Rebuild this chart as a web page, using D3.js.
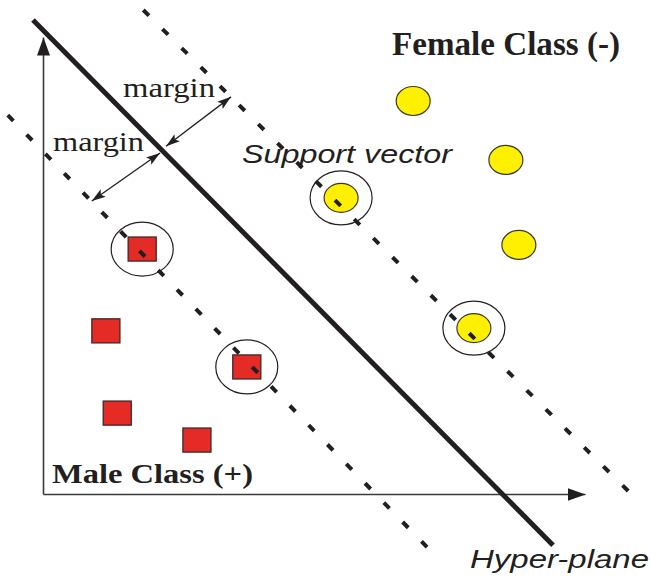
<!DOCTYPE html>
<html>
<head>
<meta charset="utf-8">
<script src="https://cdnjs.cloudflare.com/ajax/libs/d3/7.8.5/d3.min.js"></script>
<style>
  body { margin: 0; background: #fff; }
  svg { display: block; }
</style>
</head>
<body>
<div id="chart"></div>
<script>
// male class (+) samples, feature space 0..100
var maleX = [18.3, 11.6, 37.6, 13.7, 28.4];
var maleY = [53.6, 35.7, 27.8, 17.7, 11.8];
var maleSupport = [true, false, true, false, false];

// female class (-) samples
var femaleX = [68.3, 85.4, 55.0, 87.8, 79.5];
var femaleY = [86.0, 73.1, 64.8, 54.5, 36.3];
var femaleSupport = [false, false, true, false, true];

// separating lines: [x0, y0, x1, y1]
var hyperPlane = [-1.85, 103.7, 94.1, -11.2];
var upperMargin = [18.5, 105.9, 108.7, -0.2];
var lowerMargin = [-6.5, 82.9, 71.0, -11.8];

// margin arrows
var marginArrows = [
    [22.7, 76.1, 34.7, 86.9],
    [21.6, 74.6, 9.0, 64.1]
];

var width = 650, height = 577;
var ink = "#231f20";

var x = d3.scaleLinear().domain([0, 100]).range([43, 585]);
var y = d3.scaleLinear().domain([0, 100]).range([494, 37]);

var svg = d3.select("#chart").append("svg")
    .attr("width", width)
    .attr("height", height);

var defs = svg.append("defs");
defs.append("marker")
    .attr("id", "axisArrow")
    .attr("markerUnits", "userSpaceOnUse")
    .attr("markerWidth", 20).attr("markerHeight", 16)
    .attr("viewBox", "0 -8 20 16")
    .attr("refX", 18).attr("refY", 0)
    .attr("orient", "auto")
    .append("path")
    .attr("d", "M0,-6.5L18,0L0,6.5Z")
    .attr("fill", ink);

defs.append("marker")
    .attr("id", "marginArrow")
    .attr("markerUnits", "userSpaceOnUse")
    .attr("markerWidth", 16).attr("markerHeight", 12)
    .attr("viewBox", "0 -6 16 12")
    .attr("refX", 14).attr("refY", 0)
    .attr("orient", "auto-start-reverse")
    .append("path")
    .attr("d", "M0,-4.5L14,0L0,4.5L3,0Z")
    .attr("fill", ink);

// axes, no ticks
var xAxis = svg.append("g")
    .attr("transform", "translate(0," + y(0) + ")")
    .call(d3.axisBottom(x).ticks(0).tickSizeOuter(0));
var yAxis = svg.append("g")
    .attr("transform", "translate(" + x(0) + ",0)")
    .call(d3.axisLeft(y).ticks(0).tickSizeOuter(0));
[xAxis, yAxis].forEach(function(a){
    a.select(".domain")
        .attr("stroke", "#3a3a3a")
        .attr("stroke-width", 1.6)
        .attr("marker-end", "url(#axisArrow)");
});

// support vector rings
var rings = [];
maleX.forEach(function(v, i){ if (maleSupport[i]) rings.push([v, maleY[i]]); });
femaleX.forEach(function(v, i){ if (femaleSupport[i]) rings.push([v, femaleY[i]]); });
svg.selectAll(".ring").data(rings).enter().append("ellipse")
    .attr("class", "ring")
    .attr("cx", function(d){ return x(d[0]); })
    .attr("cy", function(d){ return y(d[1]); })
    .attr("rx", 31).attr("ry", 27)
    .attr("fill", "none")
    .attr("stroke", ink)
    .attr("stroke-width", 1.2);

// male squares
svg.selectAll(".male").data(d3.range(maleX.length)).enter().append("rect")
    .attr("class", "male")
    .attr("x", function(i){ return x(maleX[i]) - 14; })
    .attr("y", function(i){ return y(maleY[i]) - 12; })
    .attr("width", 28).attr("height", 24)
    .attr("fill", "#e42b26")
    .attr("stroke", "#4a2b2b")
    .attr("stroke-width", 1.4);

// female circles
svg.selectAll(".female").data(d3.range(femaleX.length)).enter().append("ellipse")
    .attr("class", "female")
    .attr("cx", function(i){ return x(femaleX[i]); })
    .attr("cy", function(i){ return y(femaleY[i]); })
    .attr("rx", 17).attr("ry", 14.5)
    .attr("fill", "#fff000")
    .attr("stroke", "#3a3a2a")
    .attr("stroke-width", 1.2);

// margin boundaries (dashed)
[upperMargin, lowerMargin].forEach(function(l){
    svg.append("line")
        .attr("x1", x(l[0])).attr("y1", y(l[1]))
        .attr("x2", x(l[2])).attr("y2", y(l[3]))
        .attr("stroke", ink)
        .attr("stroke-width", 4)
        .attr("stroke-dasharray", "8 19");
});

// hyper-plane
svg.append("line")
    .attr("x1", x(hyperPlane[0])).attr("y1", y(hyperPlane[1]))
    .attr("x2", x(hyperPlane[2])).attr("y2", y(hyperPlane[3]))
    .attr("stroke", ink)
    .attr("stroke-width", 5);

// margin arrows
svg.selectAll(".marg").data(marginArrows).enter().append("line")
    .attr("class", "marg")
    .attr("x1", function(d){ return x(d[0]); })
    .attr("y1", function(d){ return y(d[1]); })
    .attr("x2", function(d){ return x(d[2]); })
    .attr("y2", function(d){ return y(d[3]); })
    .attr("stroke", ink)
    .attr("stroke-width", 1.3)
    .attr("marker-start", "url(#marginArrow)")
    .attr("marker-end", "url(#marginArrow)");

// labels
function label(txt, px, py, size, len, serif, bold, italic){
    svg.append("text")
        .attr("x", px).attr("y", py)
        .attr("font-family", serif ? "'Liberation Serif', 'Times New Roman', serif" : "'Liberation Sans', Arial, sans-serif")
        .attr("font-size", size)
        .attr("font-weight", bold ? "bold" : "normal")
        .attr("font-style", italic ? "italic" : "normal")
        .attr("fill", ink)
        .attr("textLength", len)
        .attr("lengthAdjust", "spacingAndGlyphs")
        .text(txt);
}
label("Female Class (-)", 392, 55, 33, 228, true, true, false);
label("Male Class (+)", 52, 483, 27.5, 201, true, true, false);
label("margin", 123, 97, 28, 92, true, false, false);
label("margin", 53, 151, 28, 91, true, false, false);
label("Support vector", 242, 163, 26.5, 210, false, false, true);
label("Hyper-plane", 470, 568, 26, 179, false, false, true);
</script>
</body>
</html>
